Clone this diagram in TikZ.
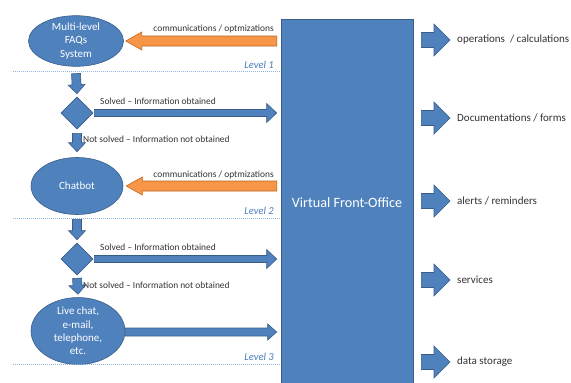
\documentclass[tikz,border=0pt]{standalone}
\usepackage{fontspec}
\setmainfont{Carlito}
\usetikzlibrary{shapes.geometric,calc}
\definecolor{bfill}{HTML}{4F81BD}
\definecolor{bdraw}{HTML}{385D8A}
\definecolor{ofill}{HTML}{F79646}
\definecolor{odraw}{HTML}{C0661F}
\definecolor{lvl}{HTML}{4A7EBB}
\definecolor{lvline}{HTML}{8EB4E3}
\definecolor{txt}{HTML}{333333}
\tikzset{
  barrow/.style n args={3}{to path={
    ($(\tikztotarget)!#3!(\tikztostart)$) coordinate (bh)
    ($(\tikztostart)!#1!90:(\tikztotarget)$) -- ($(bh)!#1!90:(\tikztotarget)$)
    -- ($(bh)!#2!90:(\tikztotarget)$) -- (\tikztotarget)
    -- ($(bh)!#2!-90:(\tikztotarget)$) -- ($(bh)!#1!-90:(\tikztotarget)$)
    -- ($(\tikztostart)!#1!-90:(\tikztotarget)$) -- cycle}},
  bluearr/.style={fill=bfill, draw=bdraw, line width=0.6pt, line join=miter},
  orangearr/.style={fill=ofill, draw=odraw, line width=0.6pt, line join=miter},
  ell/.style={ellipse, fill=bfill, draw=bdraw, line width=0.6pt, inner sep=0pt,
    text=white, align=center, font=\fontsize{11}{13.2}\selectfont},
  dia/.style={diamond, fill=bfill, draw=bdraw, line width=0.6pt, inner sep=0pt,
    minimum width=32pt, minimum height=32pt},
  vfobox/.style={rectangle, fill=bfill, draw=bdraw, line width=0.6pt,
    minimum width=132pt, minimum height=367pt, text=white,
    font=\fontsize{14.2}{16}\selectfont},
  small/.style={inner sep=0pt, text=txt, font=\fontsize{9.4}{11}\selectfont},
  lvllab/.style={inner sep=0pt, text=lvl, font=\fontsize{10.6}{12}\selectfont\itshape},
  lvlline/.style={draw=lvline, line width=0.6pt, dash pattern=on 1pt off 1pt},
  outlab/.style={inner sep=0pt, anchor=west, text=txt, font=\fontsize{11}{13}\selectfont},
}
\begin{document}
\begin{tikzpicture}[x=1pt,y=-1pt]
\clip (0,0) rectangle (571,383);
\fill[white] (0,0) rectangle (571,383);

% central box
\node[vfobox] (vfo) at (347,202.5) {Virtual Front-Office};

% level 1
\node[ell, minimum width=95pt, minimum height=50pt] (e1) at (76,41) {Multi-level\\FAQs\\System};
\node[dia] (d1) at (77,113) {};
% level 2
\node[ell, minimum width=92pt, minimum height=57pt] (e2) at (77,186) {Chatbot};
\node[dia] (d2) at (77,259) {};
% level 3
\node[ell, minimum width=94pt, minimum height=58pt] (e3) at (78,331) {Live chat,\\e-mail,\\telephone,\\etc.};

% level lines
\coordinate (l1s) at (13,71);
\coordinate (l2s) at (13,218);
\coordinate (l3s) at (13,364);
\draw[lvlline] (l1s) -- (vfo.west |- l1s);
\draw[lvlline] (l2s) -- (vfo.west |- l2s);
\draw[lvlline] (l3s) -- (vfo.west |- l3s);
\node[lvllab, anchor=east] (lv1) at (274,65) {Level 1};
\node[lvllab, anchor=east] (lv2) at (274,211) {Level 2};
\node[lvllab, anchor=east] (lv3) at (274,357) {Level 3};

% orange feedback arrows
\coordinate (o1) at ($(vfo.west |- e1.east)+(-4,0)$);
\coordinate (o2) at ($(vfo.west |- e2.east)+(-4,0)$);
\draw[orangearr] (o1) to[barrow={5pt}{9pt}{16pt}] ($(e1.east)+(2,0)$);
\draw[orangearr] (o2) to[barrow={5pt}{9pt}{16pt}] ($(e2.east)+(3,0)$);
\node[small, anchor=east] (c1) at (274,29) {communications / optmizations};
\node[small, anchor=east] (c2) at (274,175) {communications / optmizations};

% down arrows
\draw[bluearr] ($(e1.south)+(0,7)$) to[barrow={4.5pt}{8.5pt}{9pt}] ($(d1.north)+(0,-3)$);
\draw[bluearr] ($(d1.south)+(0,4)$) to[barrow={4.5pt}{8.5pt}{9pt}] ($(e2.north)+(0,-5.5)$);
\draw[bluearr] ($(e2.south)+(0,4.5)$) to[barrow={4.5pt}{8.5pt}{9pt}] ($(d2.north)+(0,-3)$);
\draw[bluearr] ($(d2.south)+(0,3)$) to[barrow={4.5pt}{8.5pt}{9pt}] ($(e3.north)+(0,-3)$);

% solved arrows
\coordinate (s1) at ($(vfo.west |- d1.east)+(-4,0)$);
\coordinate (s2) at ($(vfo.west |- d2.east)+(-4,0)$);
\coordinate (s3) at ($(vfo.west |- e3.east)+(-4,1)$);
\draw[bluearr] ($(d1.east)+(1,0)$) to[barrow={3.5pt}{9.5pt}{10pt}] (s1);
\draw[bluearr] ($(d2.east)+(1,0)$) to[barrow={3.5pt}{9.5pt}{10pt}] (s2);
\draw[bluearr] ($(e3.east)+(0,1)$) to[barrow={4pt}{8pt}{9pt}] (s3);
\node[small, anchor=west] (so1) at (100,101) {Solved -- Information obtained};
\node[small, anchor=west] (so2) at (100,247) {Solved -- Information obtained};
\node[small, anchor=west] (ns1) at (83,139) {Not solved -- Information not obtained};
\node[small, anchor=west] (ns2) at (83,285) {Not solved -- Information not obtained};

% outputs
\node[outlab] (out1) at (457,40) {operations \ / calculations};
\node[outlab] (out2) at (457,118) {Documentations / forms};
\node[outlab] (out3) at (457,201) {alerts / reminders};
\node[outlab] (out4) at (457,280) {services};
\node[outlab] (out5) at (457,362) {data storage};
\foreach \i in {1,...,5}{
  \draw[bluearr] ($(vfo.east |- out\i.west)+(8,0)$) to[barrow={7.5pt}{16pt}{16pt}] ($(out\i.west)+(-7,0)$);
}
\end{tikzpicture}
\end{document}
